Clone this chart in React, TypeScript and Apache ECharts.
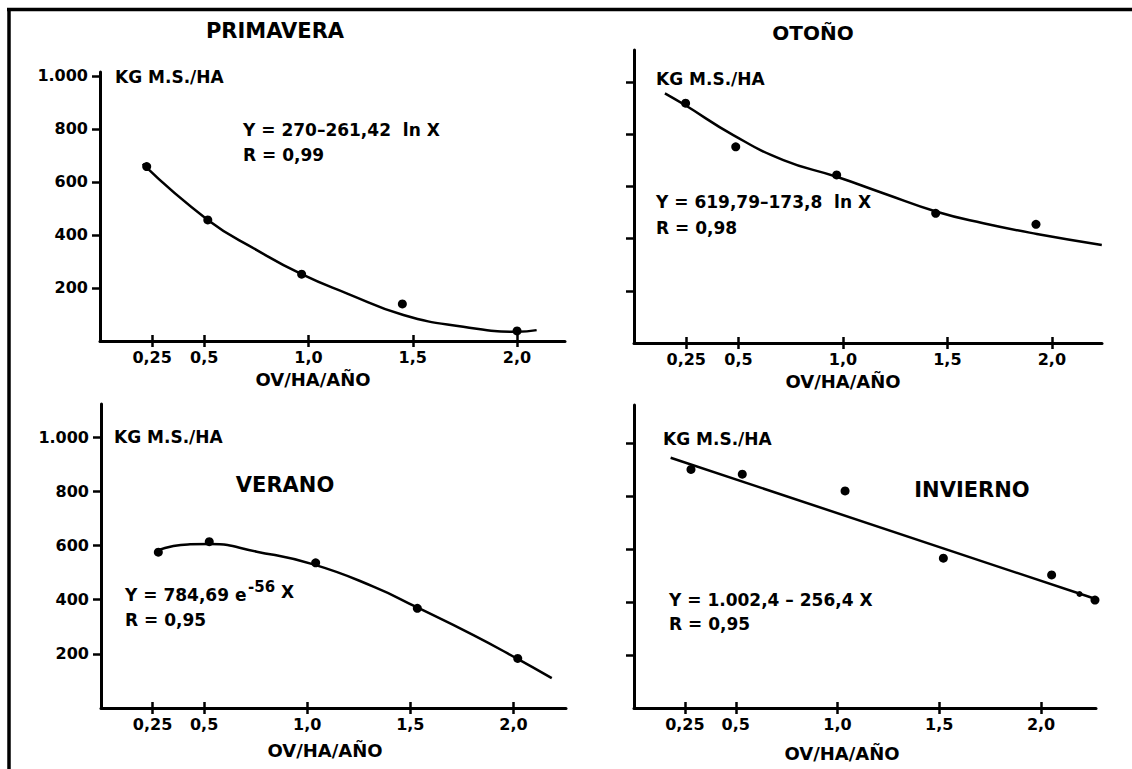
import React, { useEffect, useRef } from "react";
import * as echarts from "echarts";

const FONT = '"DejaVu Sans", "Liberation Sans", sans-serif';

// Axis ticks
const xTickValues = [0.25, 0.5, 1.0, 1.5, 2.0];
const xTickLabels = ["0,25", "0,5", "1,0", "1,5", "2,0"];
const yTickValues = [200, 400, 600, 800, 1000];
const yTickLabels = ["200", "400", "600", "800", "1.000"];

// PRIMAVERA
const primaveraPoints = [[0.224, 658], [0.517, 457], [0.967, 252], [1.45, 140], [2.0, 38]];
const primaveraCurve = [[0.205, 668], [0.517, 457], [0.752, 343], [0.967, 252], [1.183, 180], [1.455, 98], [1.742, 54], [2.0, 35], [2.094, 41]];

// OTOÑO
const otonoPoints = [[0.247, 919], [0.487, 752], [0.97, 644], [1.444, 497], [1.924, 455]];
const otonoCurve = [[0.148, 957], [0.244, 912], [0.475, 797], [0.715, 701], [0.97, 637], [1.193, 574], [1.449, 503], [1.672, 459], [1.928, 418], [2.239, 376]];

// VERANO
const veranoPoints = [[0.278, 575], [0.525, 614], [1.041, 536], [1.534, 368], [2.021, 183]];
const veranoCurve = [[0.27, 581], [0.351, 598], [0.432, 604], [0.529, 605], [0.755, 577], [1.03, 530], [1.321, 448], [1.531, 372], [1.806, 269], [2.016, 183], [2.186, 110]];

// INVIERNO
const inviernoPoints = [[0.28, 900], [0.532, 882], [1.037, 819], [1.52, 565], [2.052, 502], [2.265, 407]];
const inviernoSmallPoints = [[2.189, 430]];
const inviernoLine = [[0.18, 944], [2.265, 412]];

const panels = [
  { box: [100, 72, 465, 269], xMax: 2.23, yMax: 1015, yLabels: true, points: primaveraPoints, curve: primaveraCurve, smooth: 0.5 },
  { box: [634, 50, 468, 293], xMax: 2.24, yMax: 1123, yLabels: false, points: otonoPoints, curve: otonoCurve, smooth: 0.5 },
  { box: [101, 404, 465, 304], xMax: 2.255, yMax: 1122, yLabels: true, points: veranoPoints, curve: veranoCurve, smooth: 0.5 },
  { box: [634, 405, 462, 303], xMax: 2.27, yMax: 1143, yLabels: false, points: inviernoPoints, curve: inviernoLine, smooth: false },
];

const xLabel = (v: number) => {
  const i = xTickValues.findIndex((t) => Math.abs(t - v) < 1e-6);
  return i >= 0 ? xTickLabels[i] : "";
};
const yLabel = (v: number) => {
  const i = yTickValues.findIndex((t) => Math.abs(t - v) < 1e-6);
  return i >= 0 ? yTickLabels[i] : "";
};

const txt = (text: string, x: number, y: number, size: number, align: string = "left") => ({
  type: "text",
  x,
  y,
  silent: true,
  style: {
    text,
    fill: "#000",
    font: `bold ${size}px ${FONT}`,
    fontSize: size,
    fontWeight: "bold",
    fontFamily: FONT,
    align,
    verticalAlign: "middle",
  },
});

export default function App() {
  const ref = useRef<HTMLDivElement>(null);
  useEffect(() => {
    if (!ref.current) return;
    const chart = echarts.init(ref.current, undefined, { renderer: "svg" });
    const labelStyle = { color: "#000", fontSize: 16, fontWeight: "bold", fontFamily: FONT };
    const grids = panels.map((p) => ({ left: p.box[0], top: p.box[1], width: p.box[2], height: p.box[3], containLabel: false }));
    const xAxes: any[] = [];
    const yAxes: any[] = [];
    const series: any[] = [];
    panels.forEach((p, i) => {
      xAxes.push({
        type: "value", gridIndex: i, min: 0, max: p.xMax, position: "bottom",
        axisLine: { show: true, onZero: false, lineStyle: { color: "#000", width: 3 } },
        axisTick: { show: true, customValues: xTickValues, length: 6, lineStyle: { color: "#000", width: 2.5 } },
        axisLabel: { show: true, customValues: xTickValues, formatter: xLabel, margin: 8, ...labelStyle },
        splitLine: { show: false },
      });
      yAxes.push({
        type: "value", gridIndex: i, min: 0, max: p.yMax,
        axisLine: { show: true, onZero: false, lineStyle: { color: "#000", width: 3 } },
        axisTick: { show: true, customValues: yTickValues, length: 8, lineStyle: { color: "#000", width: 2.5 } },
        axisLabel: { show: p.yLabels, customValues: yTickValues, formatter: yLabel, margin: 12, ...labelStyle },
        splitLine: { show: false },
      });
    });
    // inner half of the crossing x ticks
    panels.forEach((p, i) => {
      xAxes.push({
        type: "value", gridIndex: i, min: 0, max: p.xMax, position: "bottom",
        axisLine: { show: false },
        axisTick: { show: true, inside: true, customValues: xTickValues, length: 6, lineStyle: { color: "#000", width: 2.5 } },
        axisLabel: { show: false },
        splitLine: { show: false },
      });
    });
    panels.forEach((p, i) => {
      series.push({
        type: "line", xAxisIndex: i, yAxisIndex: i, data: p.curve, smooth: p.smooth,
        showSymbol: false, symbol: "none", silent: true, clip: false,
        lineStyle: { color: "#000", width: 2.5 },
      });
      series.push({
        type: "scatter", xAxisIndex: i, yAxisIndex: i, data: p.points, symbolSize: 9, clip: false,
        itemStyle: { color: "#000", opacity: 1 }, silent: true,
      });
    });
    series.push({
      type: "scatter", xAxisIndex: 3, yAxisIndex: 3, data: inviernoSmallPoints, symbolSize: 6, clip: false,
      itemStyle: { color: "#000", opacity: 1 }, silent: true,
    });

    const graphic: any[] = [
      { type: "line", silent: true, shape: { x1: 7, y1: 9.5, x2: 1132, y2: 9.5 }, style: { stroke: "#000", lineWidth: 3.5 } },
      { type: "line", silent: true, shape: { x1: 9, y1: 8, x2: 9, y2: 769 }, style: { stroke: "#000", lineWidth: 3.5 } },
      // PRIMAVERA
      txt("PRIMAVERA", 275, 31, 21, "center"),
      txt("KG M.S./HA", 115, 77, 17),
      txt("Y = 270\u2013261,42  ln X", 243, 130, 17),
      txt("R = 0,99", 243, 155, 17),
      txt("OV/HA/AÑO", 313, 379, 18, "center"),
      // OTOÑO
      txt("OTOÑO", 813, 33, 20, "center"),
      txt("KG M.S./HA", 656, 79, 17),
      txt("Y = 619,79\u2013173,8  ln X", 656, 202, 17),
      txt("R = 0,98", 656, 228, 17),
      txt("OV/HA/AÑO", 843, 381, 18, "center"),
      // VERANO
      txt("KG M.S./HA", 114, 437, 17),
      txt("VERANO", 285, 485, 21, "center"),
      txt("Y = 784,69 e", 125, 595, 17),
      txt("-56", 248, 587, 15),
      txt("X", 281, 592, 17),
      txt("R = 0,95", 125, 620, 17),
      txt("OV/HA/AÑO", 325, 750, 18, "center"),
      // INVIERNO
      txt("KG M.S./HA", 663, 439, 17),
      txt("INVIERNO", 972, 490, 21, "center"),
      txt("Y = 1.002,4 \u2013 256,4 X", 669, 600, 17),
      txt("R = 0,95", 669, 624, 17),
      txt("OV/HA/AÑO", 842, 753, 18, "center"),
    ];

    chart.setOption({
      animation: false,
      backgroundColor: "#fff",
      grid: grids,
      xAxis: xAxes,
      yAxis: yAxes,
      series,
      graphic,
    });
    return () => chart.dispose();
  }, []);
  return (
    <div
      ref={ref}
      style={{ position: "absolute", left: 0, top: 0, width: 1132, height: 769, background: "#fff" }}
    />
  );
}
